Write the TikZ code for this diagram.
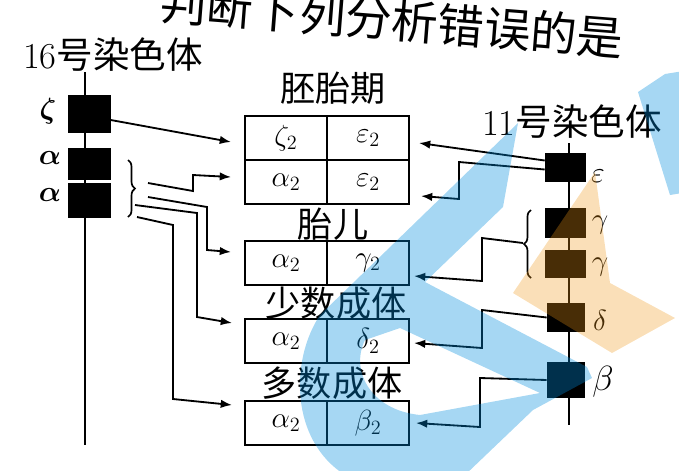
\documentclass[tikz,border=0pt]{standalone}
\usepackage{amsmath}
\usepackage{fontspec}
\newfontfamily\cjk{Noto Sans CJK SC}
\usetikzlibrary{arrows.meta,calc,decorations.pathreplacing}

\definecolor{markblue}{RGB}{0,140,220}
\definecolor{markorange}{RGB}{240,150,20}

\tikzset{
  cell/.style={draw, line width=1.4pt, minimum width=2.05cm, minimum height=1.1cm,
    inner sep=0pt, font=\fontsize{22}{24}\selectfont},
  gene/.style={fill=black, minimum width=1.05cm, inner sep=0pt},
  genename/.style={font=\fontsize{22}{24}\selectfont},
  stagename/.style={font=\cjk\fontsize{25}{27}\selectfont, inner sep=0pt},
  chromname/.style={font=\cjk\fontsize{26}{28}\selectfont, inner sep=0pt},
  link/.style={line width=1.3pt, -{Latex[length=8pt,width=6pt]}},
}

\begin{document}
\begin{tikzpicture}[x=0.025cm, y=-0.025cm]
  \useasboundingbox (0,0) rectangle (679,470);
  \clip (0,0) rectangle (679,470);

  % heading, cut off by the page edge
  \node[font=\cjk\fontsize{33}{35}\selectfont, rotate=-4.5, inner sep=0pt] (head) at (392,20) {判断下列分析错误的是};

  % chromosome 16
  \node[chromname] (c16) at (113,55) {{\rmfamily 16}号染色体};
  \draw[line width=1.2pt] (85,72) -- (85,445);
  \node[gene, minimum height=0.95cm] (zeta) at (89.5,114) {};
  \node[gene, minimum height=0.8cm] (alphaA) at (89.5,164) {};
  \node[gene, minimum height=0.875cm] (alphaB) at (89.5,200.5) {};
  \node[genename] at (48,111) {$\boldsymbol{\zeta}$};
  \node[genename] at (50,158) {$\boldsymbol{\alpha}$};
  \node[genename] at (50,195) {$\boldsymbol{\alpha}$};
  \draw[line width=1.2pt, decorate, decoration={brace, amplitude=5pt}] (128,160) -- (128,217);
  \coordinate (brL) at (136,188);

  % chromosome 11
  \node[chromname] (c11) at (572,122) {{\rmfamily 11}号染色体};
  \draw[line width=1.2pt] (569,143) -- (569,425);
  \node[gene, minimum width=1.025cm, minimum height=0.725cm] (eps) at (565.5,167.5) {};
  \node[gene, minimum width=1.025cm, minimum height=0.75cm] (gamA) at (565.5,223) {};
  \node[gene, minimum width=1.025cm, minimum height=0.7cm] (gamB) at (565.5,264) {};
  \node[gene, minimum width=0.95cm, minimum height=0.725cm] (delta) at (566,317.5) {};
  \node[gene, minimum width=0.95cm, minimum height=0.9cm] (beta) at (566,380) {};
  \node[genename, font=\fontsize{20}{22}\selectfont] at (598,176) {$\varepsilon$};
  \node[genename, font=\fontsize{20}{22}\selectfont] at (600,225) {$\gamma$};
  \node[genename, font=\fontsize{20}{22}\selectfont] at (600,267) {$\gamma$};
  \node[genename, font=\fontsize{20}{22}\selectfont] at (600,320) {$\delta$};
  \node[genename, font=\fontsize{24}{26}\selectfont] at (603,382) {$\beta$};
  \draw[line width=1.2pt, decorate, decoration={brace, amplitude=5pt}] (531,278) -- (531,210);
  \coordinate (brR) at (523,243);

  % stages and their haemoglobin chains
  \node[stagename] (s1) at (333,88) {胚胎期};
  \node[cell] (z2) at (286,138) {$\zeta_2$};
  \node[cell] (e2) at (368,138) {$\varepsilon_2$};
  \node[cell] (a2) at (286,182) {$\alpha_2$};
  \node[cell] (e2b) at (368,182) {$\varepsilon_2$};
  \node[stagename] (s2) at (333,224) {胎儿};
  \node[cell] (a3) at (286,263) {$\alpha_2$};
  \node[cell] (g2) at (368,263) {$\gamma_2$};
  \node[stagename] (s3) at (336,303) {少数成体};
  \node[cell] (a4) at (286,341) {$\alpha_2$};
  \node[cell] (d2) at (368,341) {$\delta_2$};
  \node[stagename] (s4) at (332,383) {多数成体};
  \node[cell] (a5) at (286,423) {$\alpha_2$};
  \node[cell] (b2) at (368,423) {$\beta_2$};

  % left connectors
  \draw[link] ($(zeta.east)+(0,6)$) -- ($(z2.west)+(-13,4)$);
  \draw[link] ($(brL)+(12,-5)$) -- (193,191) -- (193,175) -- ($(a2.west)+(-13,-5)$);
  \draw[link] ($(brL)+(12,9)$) -- (207,207) -- (207,250) -- ($(a3.west)+(-13,-11)$);
  \draw[link] ($(brL)+(-1,17)$) -- (197,213) -- (197,317) -- ($(a4.west)+(-12,-18)$);
  \draw[link] ($(brL)+(1,29)$) -- (173,225) -- (173,399) -- ($(a5.west)+(-12,-18)$);

  % right connectors
  \draw[link] ($(eps.west)+(0,-7)$) -- ($(e2.east)+(9,5)$);
  \draw[link] ($(eps.west)+(0,2)$) -- (459,162) -- (459,199) -- ($(e2b.east)+(11,14)$);
  \draw[link] (brR) -- (482,238) -- (482,281) -- ($(g2.east)+(4,13)$);
  \draw[link] (delta.west) -- (482,310) -- (482,348) -- ($(d2.east)+(4,2)$);
  \draw[link] (beta.west) -- (480,378) -- (480,427) -- ($(b2.east)+(6,0)$);

  % watermark lying over the scan
  \fill[markblue, opacity=0.35, even odd rule]
    (518,123) -- (503,207) -- (425,282) -- (587,367) -- (592,378) -- (533,410)
    -- (465,475) -- (345,475) .. controls (290,440) and (290,360) .. (320,315) -- cycle
    (400,328) -- (540,393) -- (420,415) .. controls (370,410) and (350,370) .. (365,340) -- cycle;
  \fill[markblue, opacity=0.35] (638,92) -- (665,74) -- (690,70) -- (700,190) -- (670,195) -- cycle;
  \fill[markorange, opacity=0.3] (595,172) -- (513,293) -- (612,353) -- (675,318) -- (610,283) -- cycle;
\end{tikzpicture}
\end{document}
